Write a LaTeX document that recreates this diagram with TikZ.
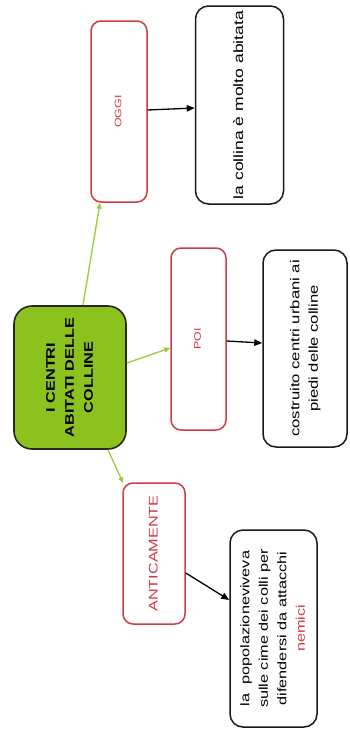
\documentclass[tikz,border=0pt]{standalone}
\usepackage{fontspec}
\setmainfont{Liberation Sans}
\usetikzlibrary{arrows.meta,calc}
\definecolor{cgreen}{HTML}{8CC21E}
\definecolor{cred}{HTML}{D23A44}
\definecolor{cline}{HTML}{9CCB3A}
\newcommand{\rtext}[2]{\rotatebox{90}{\scalebox{1.3}[1]{#1\begin{tabular}{@{}c@{}}#2\end{tabular}}}}
\tikzset{
  redbox/.style={draw=cred, line width=1.5pt, rounded corners=10pt, fill=white, inner sep=0pt, text=cred},
  blackbox/.style={draw=black!90, line width=1.5pt, rounded corners=13pt, fill=white, inner sep=0pt},
  mainbox/.style={draw=black!85, line width=1.6pt, rounded corners=18pt, fill=cgreen, inner sep=0pt},
  garrow/.style={draw=cline, line width=1.3pt, -{Triangle[length=6pt,width=5pt]}},
  barrow/.style={draw=black, line width=1.3pt, -{Triangle[length=8pt,width=6.5pt]}}
}
\begin{document}
\begin{tikzpicture}[x=1pt,y=-1pt]
\useasboundingbox (0,0) rectangle (350,731);
% nodes
\node[mainbox, minimum width=112pt, minimum height=143pt] (main) at (70,377.5)
  {\rtext{\fontsize{12.5}{19}\selectfont\bfseries}{I CENTRI\\ ABITATI DELLE\\ COLLINE}};
\node[redbox, minimum width=56pt, minimum height=181pt] (oggi) at (119,111.5)
  {\rtext{\fontsize{9.5}{12}\selectfont}{OGGI}};
\node[blackbox, minimum width=88pt, minimum height=198pt] (collina) at (239.5,105)
  {\rtext{\fontsize{13.5}{18.5}\selectfont}{la collina è molto abitata}};
\node[redbox, minimum width=55pt, minimum height=182pt] (poi) at (198.5,339)
  {\rtext{\fontsize{9.5}{12}\selectfont}{POI}};
\node[blackbox, minimum width=84pt, minimum height=197pt] (costruito) at (305,348.5)
  {\rtext{\fontsize{12.8}{18.5}\selectfont}{costruito centri urbani ai\\ piedi delle colline}};
\node[redbox, minimum width=62pt, minimum height=141pt] (anti) at (154,553.5)
  {\rtext{\fontsize{12.5}{18.5}\selectfont}{ANTICAMENTE}};
\node[blackbox, minimum width=87pt, minimum height=197pt] (popol) at (273.5,628.5)
  {\rtext{\fontsize{12.5}{18.5}\selectfont}{la~~popolazioneviveva\\ sulle cime dei colli per\\ difendersi da attacchi\\ \textcolor{cred}{nemici}}};
% connectors
\draw[garrow] ([xshift=13pt]main.north) -- ([xshift=-19pt]oggi.south);
\draw[garrow] ([yshift=14.5pt]main.east) -- ([yshift=-9pt]poi.west);
\draw[garrow] ([xshift=38pt]main.south) -- ([xshift=1pt,yshift=-1pt]anti.north west);
\draw[barrow] ([yshift=1.5pt]oggi.east) -- ([yshift=-3pt]collina.west);
\draw[barrow] ([yshift=-2pt]poi.east) -- ([yshift=5.5pt]costruito.west);
\draw[barrow] ([yshift=-19.5pt]anti.east) -- ([yshift=28.5pt]popol.west);
\end{tikzpicture}
\end{document}
